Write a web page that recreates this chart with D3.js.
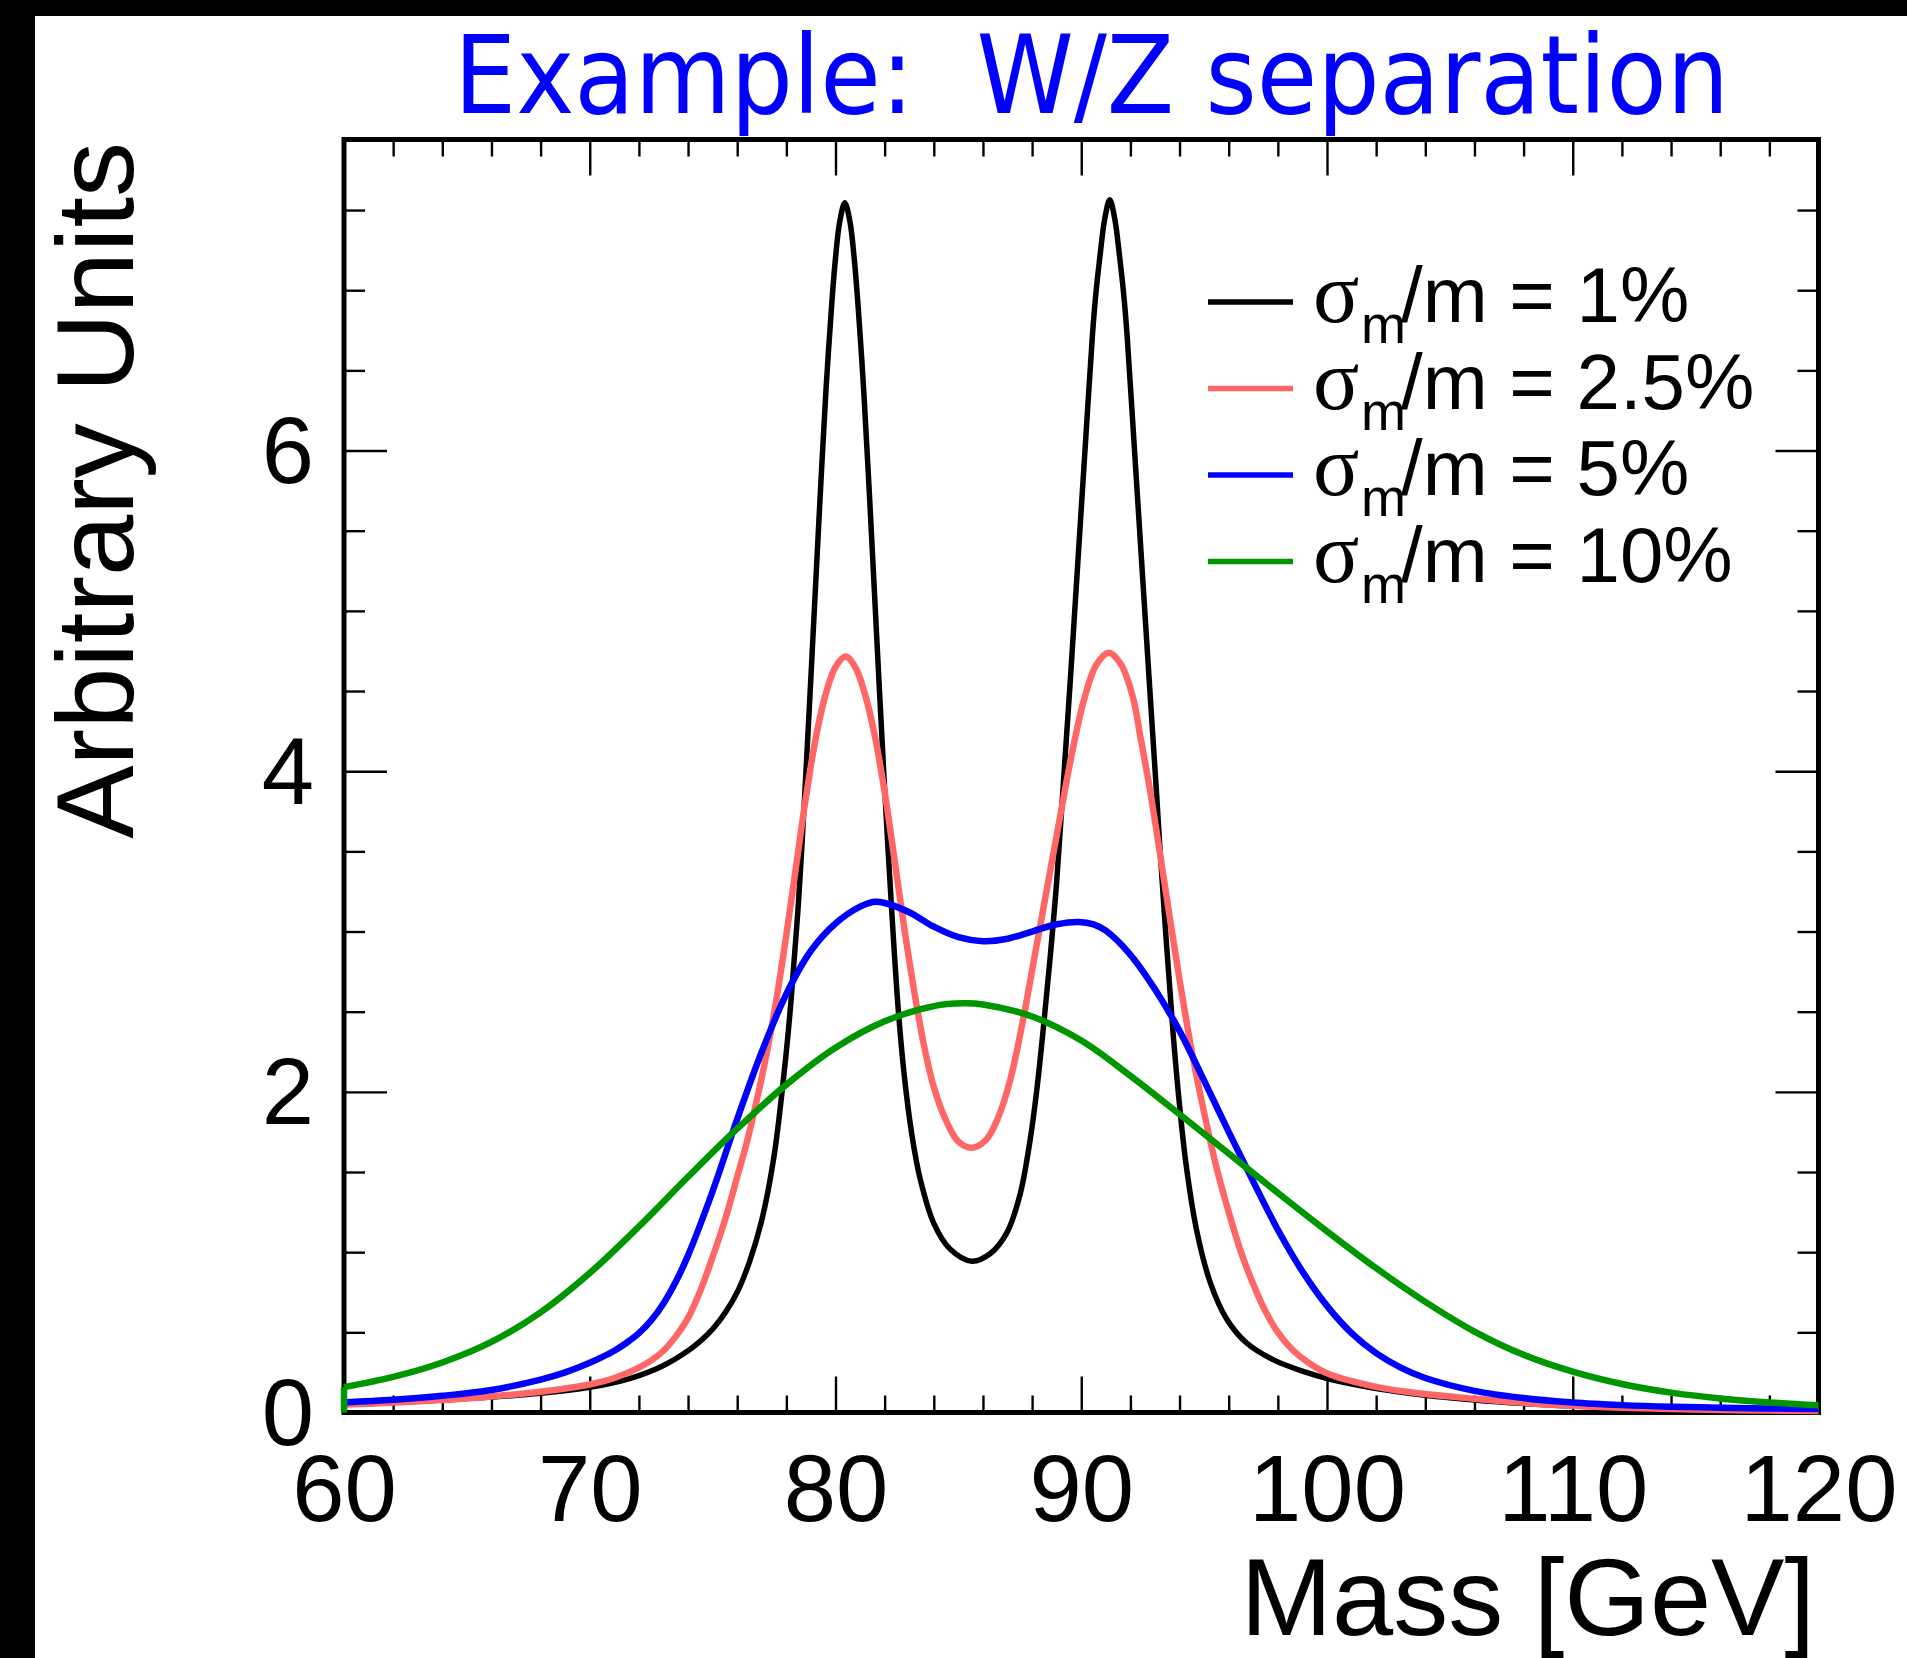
<!DOCTYPE html>
<html>
<head>
<meta charset="utf-8">
<script src="https://cdn.jsdelivr.net/npm/d3@7"></script>
<style>
  html, body { margin: 0; padding: 0; background: #fff; }
  svg { display: block; }
</style>
</head>
<body>
<div id="chart"></div>
<script>
// values (mass in GeV, arbitrary units)
const massBlack = [60, 62, 64, 66, 68, 70, 71, 72, 73, 74, 74.5, 75, 75.5, 76, 76.5, 77, 77.5, 77.91, 78.18, 78.5, 78.78,
  78.97, 79.13, 79.29, 79.44, 79.61, 79.84, 80.0, 80.175, 80.38, 80.585, 80.76, 80.92, 81.15, 81.32, 81.47, 81.63, 81.79,
  81.98, 82.26, 82.55, 82.8, 83.1, 83.44, 84.0, 84.66, 85.55, 86.29, 86.97, 87.51, 87.92, 88.19, 88.46, 88.73, 89.0,
  89.28, 89.56, 89.86, 90.16, 90.46, 90.59, 90.76, 90.96, 91.16, 91.36, 91.56, 91.73, 91.86, 92.16, 92.46, 92.76, 93.04,
  93.19, 93.47, 93.74, 94.01, 94.28, 94.69, 95.23, 95.91, 96.72, 97.8, 99.16, 100, 102, 104, 106, 108, 110, 112, 114,
  116, 118, 120];
const valBlack = [0.05, 0.062, 0.078, 0.096, 0.12, 0.157, 0.187, 0.23, 0.293, 0.385, 0.445, 0.52, 0.62, 0.75, 0.94, 1.2,
  1.6, 2.12, 2.55, 3.2, 3.944, 4.5, 4.98, 5.46, 5.9, 6.37, 6.9, 7.2, 7.43, 7.545, 7.43, 7.2, 6.9, 6.37, 5.9, 5.46, 4.98,
  4.5, 3.944, 3.2, 2.52, 2.10, 1.74, 1.46, 1.18, 1.02, 0.944, 0.99, 1.12, 1.36, 1.70, 2.01, 2.40, 2.83, 3.31, 3.944,
  4.58, 5.30, 6.02, 6.73, 6.97, 7.21, 7.449, 7.564, 7.449, 7.21, 6.97, 6.73, 6.02, 5.30, 4.58, 3.92, 3.55, 2.92, 2.36,
  1.90, 1.53, 1.14, 0.82, 0.585, 0.435, 0.33, 0.25, 0.212, 0.15, 0.108, 0.078, 0.056, 0.04, 0.029, 0.021, 0.015, 0.011,
  0.009];

const massRed = [60, 62, 64, 66, 68, 70, 71, 72, 72.5, 73, 73.5, 74, 74.5, 75, 75.5, 76, 76.4, 76.8, 77.2, 77.6, 78.0, 78.4,
  78.8, 79.2, 79.6, 80.0, 80.41, 80.8, 81.2, 81.6, 82.0, 82.4, 82.8, 83.2, 83.6, 84.0, 84.5, 85.0, 85.55, 86.12, 86.62,
  87.12, 87.62, 88.12, 88.62, 89.12, 89.62, 90.12, 90.62, 91.12, 91.62, 92.12, 92.4, 92.8, 93.2, 93.6, 94.0, 94.5, 95.0,
  95.5, 96.0, 96.5, 97.0, 97.5, 98.0, 98.6, 99.3, 100, 102, 104, 106, 108, 110, 112, 114, 116, 118, 120];
const valRed = [0.05, 0.062, 0.078, 0.1, 0.13, 0.175, 0.215, 0.28, 0.325, 0.385, 0.475, 0.59, 0.76, 0.97, 1.2, 1.47, 1.69,
  1.95, 2.24, 2.58, 2.98, 3.41, 3.84, 4.21, 4.48, 4.65, 4.715, 4.65, 4.48, 4.22, 3.87, 3.45, 3.02, 2.63, 2.29, 2.03,
  1.82, 1.69, 1.652, 1.70, 1.84, 2.08, 2.44, 2.86, 3.28, 3.70, 4.11, 4.45, 4.665, 4.739, 4.665, 4.45, 4.22, 3.88, 3.49,
  3.09, 2.70, 2.25, 1.87, 1.53, 1.25, 1.0, 0.80, 0.63, 0.50, 0.39, 0.305, 0.245, 0.16, 0.115, 0.086, 0.06, 0.042, 0.03,
  0.022, 0.016, 0.012, 0.01];

const massBlue = [60, 62, 64, 66, 68, 69, 70, 70.5, 71, 71.5, 72, 72.5, 73, 73.5, 74, 75, 76, 77, 78, 79, 80, 81, 81.6, 82,
  83, 84, 85, 86, 87, 88, 89, 89.9, 90.5, 91, 92, 93, 94, 95, 96, 97, 98, 99, 100, 101, 102, 103, 104, 106, 108, 110,
  112, 114, 116, 118, 120];
const valBlue = [0.064, 0.08, 0.104, 0.14, 0.205, 0.25, 0.31, 0.345, 0.385, 0.435, 0.495, 0.575, 0.68, 0.815, 0.98, 1.38,
  1.83, 2.25, 2.61, 2.88, 3.05, 3.155, 3.185, 3.178, 3.12, 3.03, 2.965, 2.94, 2.955, 3.0, 3.045, 3.06, 3.045, 3.005,
  2.855, 2.64, 2.38, 2.07, 1.75, 1.44, 1.14, 0.88, 0.665, 0.495, 0.37, 0.28, 0.215, 0.135, 0.09, 0.062, 0.046, 0.036,
  0.03, 0.025, 0.022];

const massGreen = [60, 62, 64, 66, 68, 70, 72, 74, 76, 78, 80, 82, 84, 85.2, 86, 88, 90, 92, 94, 96, 98, 100, 102, 104, 106,
  108, 110, 112, 114, 116, 118, 120];
const valGreen = [0.158, 0.222, 0.312, 0.44, 0.625, 0.87, 1.16, 1.47, 1.77, 2.045, 2.275, 2.44, 2.535, 2.552, 2.545, 2.47,
  2.32, 2.10, 1.86, 1.615, 1.37, 1.13, 0.90, 0.69, 0.505, 0.36, 0.255, 0.178, 0.124, 0.088, 0.063, 0.045];

const legendLabels = ["1%", "2.5%", "5%", "10%"];
const seriesColors = ["#000000", "#ff6666", "#0000ff", "#009600"];
const seriesWidths = [5.5, 6.5, 6.5, 6.5];
const xMajorTicks = [60, 70, 80, 90, 100, 110, 120];
const yMajorTicks = [0, 2, 4, 6];

const series = [
  { mass: massBlack, val: valBlack },
  { mass: massRed, val: valRed },
  { mass: massBlue, val: valBlue },
  { mass: massGreen, val: valGreen }
];

const W = 1907, H = 1658;
const plotLeft = 344, plotRight = 1818.5, plotTop = 139.5, plotBottom = 1412.5;

const svg = d3.select("#chart").append("svg")
  .attr("width", W)
  .attr("height", H);

svg.append("rect").attr("width", W).attr("height", H).attr("fill", "#fff");

// black bands on the top and left edge of the picture
svg.append("rect").attr("x", 0).attr("y", 0).attr("width", W).attr("height", 16).attr("fill", "#000");
svg.append("rect").attr("x", 0).attr("y", 0).attr("width", 35).attr("height", H).attr("fill", "#000");

const x = d3.scaleLinear().domain([60, 120]).range([plotLeft, plotRight]);
const y = d3.scaleLinear().domain([0, 7.94]).range([plotBottom, plotTop]);

const xMinor = d3.range(60, 121, 2).filter(v => v % 10 !== 0);
const yMinor = d3.range(0.5, 7.94, 0.5).filter(v => v % 2 !== 0);

function tickGroup(axis, tx, ty) {
  const g = svg.append("g")
    .attr("transform", `translate(${tx},${ty})`)
    .call(axis);
  g.select(".domain").remove();
  g.selectAll("line").attr("stroke-width", 2.4);
  return g;
}

// ticks on all four sides, pointing inwards
tickGroup(d3.axisTop(x).tickValues(xMajorTicks).tickSize(36).tickFormat(""), 0, plotBottom);
tickGroup(d3.axisTop(x).tickValues(xMinor).tickSize(17).tickFormat(""), 0, plotBottom);
tickGroup(d3.axisBottom(x).tickValues(xMajorTicks).tickSize(36).tickFormat(""), 0, plotTop);
tickGroup(d3.axisBottom(x).tickValues(xMinor).tickSize(17).tickFormat(""), 0, plotTop);
tickGroup(d3.axisRight(y).tickValues(yMajorTicks).tickSize(43).tickFormat(""), plotLeft, 0);
tickGroup(d3.axisRight(y).tickValues(yMinor).tickSize(21).tickFormat(""), plotLeft, 0);
tickGroup(d3.axisLeft(y).tickValues(yMajorTicks).tickSize(43).tickFormat(""), plotRight, 0);
tickGroup(d3.axisLeft(y).tickValues(yMinor).tickSize(21).tickFormat(""), plotRight, 0);

// tick labels
const xLab = svg.append("g")
  .attr("transform", `translate(0,${plotBottom})`)
  .call(d3.axisBottom(x).tickValues(xMajorTicks).tickSize(0).tickPadding(42).tickFormat(d3.format("d")));
xLab.select(".domain").remove();
xLab.selectAll("text")
  .attr("font-family", "'Liberation Sans', Arial, sans-serif")
  .attr("font-size", 94)
  .attr("fill", "#000");

const yLab = svg.append("g")
  .attr("transform", `translate(${plotLeft},0)`)
  .call(d3.axisLeft(y).tickValues(yMajorTicks).tickSize(0).tickPadding(30).tickFormat(d3.format("d")));
yLab.select(".domain").remove();
yLab.selectAll("text")
  .attr("font-family", "'Liberation Sans', Arial, sans-serif")
  .attr("font-size", 94)
  .attr("dy", "0.34em")
  .attr("fill", "#000");

// frame
svg.append("rect")
  .attr("x", plotLeft).attr("y", plotTop)
  .attr("width", plotRight - plotLeft).attr("height", plotBottom - plotTop)
  .attr("fill", "none").attr("stroke", "#000").attr("stroke-width", 5);

// curves
const line = d3.line()
  .x(d => x(d[0]))
  .y(d => y(d[1]))
  .curve(d3.curveCatmullRom.alpha(0.5));

series.forEach((s, i) => {
  const pts = s.mass.map((m, j) => [m, s.val[j]]);
  svg.append("path")
    .datum(pts)
    .attr("d", line)
    .attr("fill", "none")
    .attr("stroke", seriesColors[i])
    .attr("stroke-width", seriesWidths[i])
    .attr("stroke-linejoin", "round");
});

// the 10% curve starts with a vertical step at the left edge
svg.append("line")
  .attr("x1", x(massGreen[0])).attr("x2", x(massGreen[0]))
  .attr("y1", y(0)).attr("y2", y(valGreen[0]))
  .attr("stroke", seriesColors[3]).attr("stroke-width", 6.5);

// legend
const legend = svg.append("g");
legendLabels.forEach((lab, i) => {
  const base = 322 + i * 86.5;
  legend.append("line")
    .attr("x1", 1208).attr("x2", 1293)
    .attr("y1", base - 20).attr("y2", base - 20)
    .attr("stroke", seriesColors[i]).attr("stroke-width", 5.5);
  legend.append("text")
    .attr("x", 1313).attr("y", base)
    .attr("font-family", "'Liberation Serif', 'Times New Roman', serif")
    .attr("font-size", 86)
    .text("σ");
  legend.append("text")
    .attr("x", 1361).attr("y", base + 21)
    .attr("font-family", "'Liberation Sans', Arial, sans-serif")
    .attr("font-size", 54)
    .text("m");
  legend.append("text")
    .attr("x", 1401).attr("y", base)
    .attr("font-family", "'Liberation Sans', Arial, sans-serif")
    .attr("font-size", 78)
    .text("/m = " + lab);
});

// title
svg.append("text")
  .attr("x", 454).attr("y", 113)
  .attr("font-family", "'DejaVu Sans', sans-serif")
  .attr("font-size", 108)
  .attr("fill", "#0000ff")
  .attr("textLength", 1275)
  .attr("lengthAdjust", "spacingAndGlyphs")
  .style("white-space", "pre")
  .text("Example:  W/Z separation");

// axis titles
svg.append("text")
  .attr("x", 1815).attr("y", 1635)
  .attr("text-anchor", "end")
  .attr("font-family", "'Liberation Sans', Arial, sans-serif")
  .attr("font-size", 110)
  .text("Mass [GeV]");

svg.append("text")
  .attr("transform", "translate(133,142) rotate(-90)")
  .attr("text-anchor", "end")
  .attr("font-family", "'Liberation Sans', Arial, sans-serif")
  .attr("font-size", 110)
  .text("Arbitrary Units");
</script>
</body>
</html>
